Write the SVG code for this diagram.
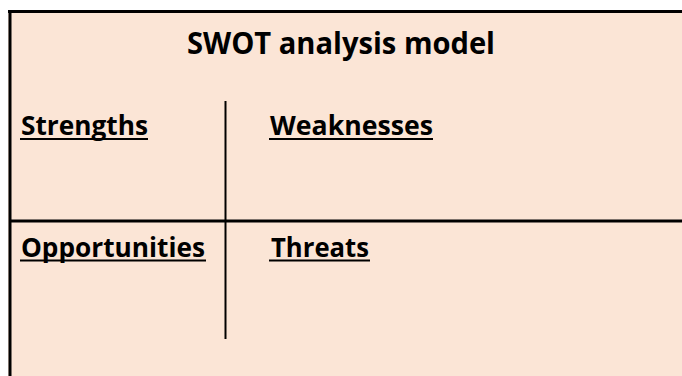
<svg xmlns="http://www.w3.org/2000/svg" width="682" height="376" viewBox="0 0 682 376">
  <style>
    .bg { fill: #FBE5D6; }
    .border { stroke: #000; stroke-width: 3; fill: none; }
    .div { stroke: #000; stroke-width: 2; fill: none; }
    .title { font-family: "Open Sans", "Liberation Sans", sans-serif; font-weight: bold; font-size: 31px; fill: #000; }
    .label { font-family: "Open Sans", "Liberation Sans", sans-serif; font-weight: bold; font-size: 26px; fill: #000; }
    .ul { stroke: #000; stroke-width: 2.2; }
  </style>
  <rect width="682" height="376" fill="#FFFFFF"/>
  <g id="frame">
    <rect class="bg" x="8" y="10" width="674" height="366"/>
    <line class="border" x1="8" y1="11.5" x2="682" y2="11.5"/>
    <line class="border" x1="10" y1="10" x2="10" y2="376"/>
  </g>
  <g id="title">
    <text class="title" x="341" y="54" text-anchor="middle" textLength="308" lengthAdjust="spacingAndGlyphs">SWOT analysis model</text>
  </g>
  <g id="dividers">
    <line class="border" x1="10" y1="221" x2="682" y2="221"/>
    <line class="div" x1="225.5" y1="101" x2="225.5" y2="339"/>
  </g>
  <g id="strengths">
    <text class="label" x="21" y="134.5" textLength="127" lengthAdjust="spacingAndGlyphs">Strengths</text>
    <line class="ul" x1="20" y1="139" x2="148" y2="139"/>
  </g>
  <g id="weaknesses">
    <text class="label" x="270" y="134.5" textLength="163" lengthAdjust="spacingAndGlyphs">Weaknesses</text>
    <line class="ul" x1="269" y1="139" x2="433" y2="139"/>
  </g>
  <g id="opportunities">
    <text class="label" x="21" y="256.5" textLength="184" lengthAdjust="spacingAndGlyphs">Opportunities</text>
    <line class="ul" x1="20" y1="260.5" x2="206" y2="260.5"/>
  </g>
  <g id="threats">
    <text class="label" x="271" y="256.5" textLength="98" lengthAdjust="spacingAndGlyphs">Threats</text>
    <line class="ul" x1="269" y1="260.5" x2="370" y2="260.5"/>
  </g>
</svg>
